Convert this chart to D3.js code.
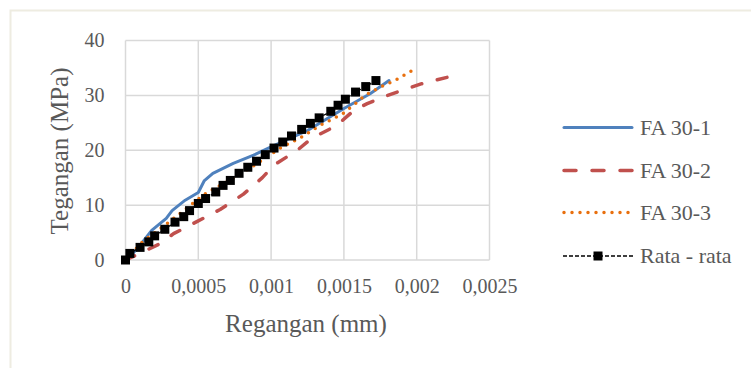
<!DOCTYPE html>
<html><head><meta charset="utf-8">
<script src="https://cdn.jsdelivr.net/npm/d3@7"></script>
<style>body{margin:0;background:#fff}svg{display:block}</style>
</head><body>
<svg id="c" width="751" height="368"></svg>
<script>
// ---- data ----
const xTicks = [0, 0.0005, 0.001, 0.0015, 0.002, 0.0025];
const xTickLabels = ["0", "0,0005", "0,001", "0,0015", "0,002", "0,0025"];
const yTicks = [0, 10, 20, 30, 40];
const seriesNames = ["FA 30-1", "FA 30-2", "FA 30-3", "Rata - rata"];
const fa301 = [[0,0],[0.00008,2.0],[0.00018,5.4],[0.00028,7.6],[0.00032,9.0],[0.00041,10.9],[0.0005,12.3],[0.00054,14.4],[0.0006,15.8],[0.00074,17.6],[0.00088,19.1],[0.001,20.6],[0.00125,23.6],[0.0015,27.6],[0.00168,30.3],[0.00181,32.7]];
const fa302 = [[0,0],[0.0001,1.2],[0.00024,3.0],[0.00033,4.8],[0.00049,7.0],[0.00065,9.2],[0.00081,12.0],[0.00094,15.0],[0.00102,17.3],[0.00118,20.0],[0.00127,22.0],[0.00134,23.0],[0.00145,24.5],[0.00157,27.3],[0.00166,28.5],[0.00177,29.7],[0.00193,31.2],[0.00203,32.1],[0.00221,33.3]];
const fa303 = [[0,0],[0.00012,3.4],[0.00028,6.5],[0.00047,10.5],[0.00056,12.3],[0.0007,14.3],[0.0009,17.5],[0.00108,20.7],[0.00119,22.1],[0.00134,24.6],[0.00149,26.6],[0.00157,28.3],[0.00165,30.1],[0.00175,31.5],[0.00185,32.7],[0.002,35.0]];
const rata = [[0,0],[0.00003,1.2],[0.0001,2.3],[0.00016,3.3],[0.0002,4.4],[0.00027,5.6],[0.00034,6.9],[0.0004,7.9],[0.00044,9.0],[0.0005,10.3],[0.00055,11.2],[0.00062,12.4],[0.00067,13.6],[0.00072,14.5],[0.00078,15.8],[0.00084,16.9],[0.0009,18.0],[0.00096,19.2],[0.00102,20.4],[0.00108,21.5],[0.00114,22.6],[0.00121,23.8],[0.00127,24.9],[0.00133,25.9],[0.00141,27.1],[0.00146,28.2],[0.00151,29.3],[0.00158,30.6],[0.00165,31.6],[0.00172,32.7]];

const svg = d3.select("#c");
const font = "'Liberation Serif', 'Times New Roman', serif";
const txt = "#595959", grid = "#d9d9d9";

// chart area border
svg.append("path").attr("d","M751,10.5 H10.5 V368").attr("fill","none").attr("stroke","#eeece1").attr("stroke-width",2);

const x = d3.scaleLinear().domain([0,0.0025]).range([125.5,489.5]);
const y = d3.scaleLinear().domain([0,40]).range([260,40.5]);

// gridlines
const g = svg.append("g");
g.selectAll(".vg").data(xTicks).join("line")
  .attr("x1",d=>x(d)).attr("x2",d=>x(d)).attr("y1",y(0)).attr("y2",y(40))
  .attr("stroke",grid).attr("stroke-width",1.5);
g.selectAll(".hg").data(yTicks).join("line")
  .attr("x1",x(0)).attr("x2",x(0.0025)).attr("y1",d=>y(d)).attr("y2",d=>y(d))
  .attr("stroke",grid).attr("stroke-width",1.5);

// axes labels via d3 axes (domain/ticks hidden)
const xa = svg.append("g").attr("transform",`translate(0,${y(0)})`)
  .call(d3.axisBottom(x).tickValues(xTicks).tickFormat((d,i)=>xTickLabels[i]).tickSize(0).tickPadding(19));
const ya = svg.append("g").attr("transform",`translate(${x(0)},0)`)
  .call(d3.axisLeft(y).tickValues(yTicks).tickSize(0).tickPadding(21));
[xa,ya].forEach(a=>{
  a.select(".domain").remove();
  a.selectAll("text").attr("font-family",font).attr("font-size",20).attr("fill",txt);
});

// titles
svg.append("text").attr("x",306).attr("y",332).attr("text-anchor","middle")
  .attr("font-family",font).attr("font-size",25).attr("fill",txt).text("Regangan (mm)");
svg.append("text").attr("transform","translate(68,151) rotate(-90)").attr("text-anchor","middle")
  .attr("font-family",font).attr("font-size",25).attr("fill",txt).text("Tegangan (MPa)");

const line = d3.line().x(d=>x(d[0])).y(d=>y(d[1]));
const styles = [
  {data:fa301, stroke:"#4f81bd", w:3, dash:null, cap:"round"},
  {data:fa302, stroke:"#c0504d", w:3.5, dash:"10,16", cap:"round"},
  {data:fa303, stroke:"#e8700f", w:3.5, dash:"0,8", cap:"round"},
  {data:rata, stroke:"#000", w:1.3, dash:"4,2", cap:"butt"}
];
styles.forEach(s=>{
  svg.append("path").datum(s.data).attr("d",line).attr("fill","none")
    .attr("stroke",s.stroke).attr("stroke-width",s.w).attr("stroke-dasharray",s.dash)
    .attr("stroke-linecap",s.cap).attr("stroke-linejoin","round");
});
svg.append("g").selectAll("rect").data(rata).join("rect")
  .attr("x",d=>x(d[0])-4.5).attr("y",d=>y(d[1])-4.5).attr("width",9).attr("height",9).attr("fill","#000");

// legend
const ly = [127.5,170.5,212.5,256];
const lg = svg.append("g");
styles.forEach((s,i)=>{
  lg.append("line").attr("x1",i==3?563:564).attr("x2",i==3?633:632).attr("y1",ly[i]).attr("y2",ly[i])
    .attr("stroke",s.stroke).attr("stroke-width",s.w)
    .attr("stroke-dasharray",i==1?"12,16":s.dash).attr("stroke-linecap",s.cap);
  lg.append("text").attr("x",640).attr("y",ly[i]+7).attr("font-family",font).attr("font-size",22)
    .attr("fill",txt).text(seriesNames[i]);
});
lg.append("rect").attr("x",598-4.5).attr("y",ly[3]-4.5).attr("width",9).attr("height",9).attr("fill","#000");
</script>
</body></html>
